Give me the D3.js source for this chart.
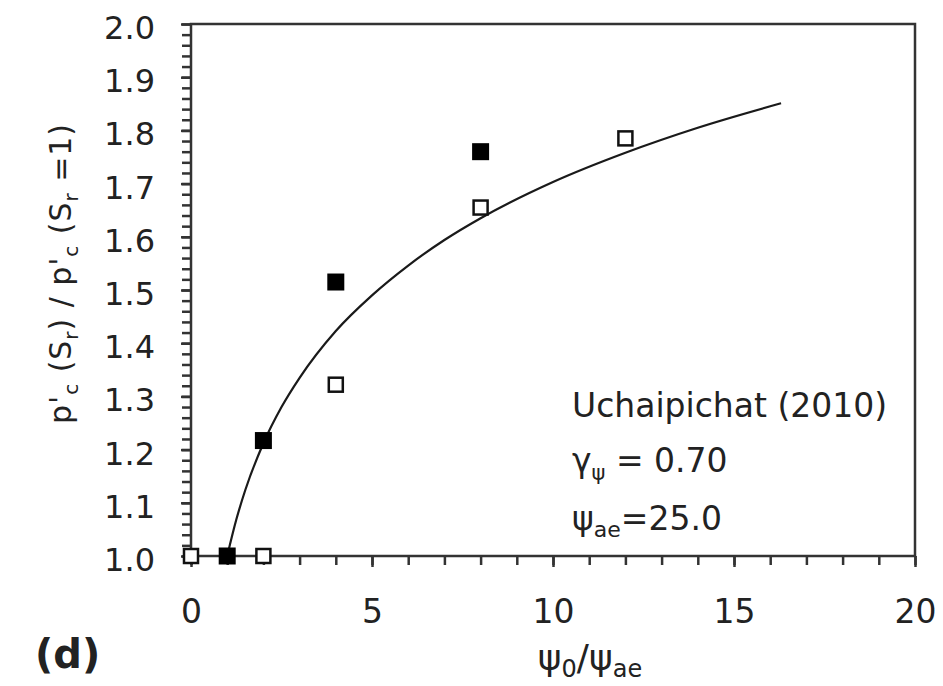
<!DOCTYPE html>
<html><head><meta charset="utf-8">
<script src="https://cdn.jsdelivr.net/npm/d3@7/dist/d3.min.js"></script>
<style>body{margin:0;background:#fff}svg{display:block}text{font-family:"DejaVu Sans",sans-serif;fill:#222}</style>
</head><body><svg id="c" width="943" height="686"></svg>
<script>
// data
const filledX = [1, 2, 4, 8];
const filledY = [1.0, 1.217, 1.515, 1.76];
const openX = [0, 2, 4, 8, 12];
const openY = [1.0, 1.0, 1.322, 1.655, 1.785];
const fitX = [1, 1.25, 1.5, 2, 2.5, 3, 4, 5, 6, 7, 8, 10, 12, 14, 16.3];
const fitY = [1.0, 1.068, 1.124, 1.212, 1.28, 1.335, 1.423, 1.49, 1.546, 1.594, 1.635, 1.703, 1.758, 1.805, 1.851];
const xTicks = [0, 5, 10, 15, 20];
const yTicks = [1.0, 1.1, 1.2, 1.3, 1.4, 1.5, 1.6, 1.7, 1.8, 1.9, 2.0];

const svg = d3.select("#c");
const L = 191, R = 915, T = 24, B = 556;
const x = d3.scaleLinear().domain([0, 20]).range([L, R]);
const y = d3.scaleLinear().domain([1.0, 2.0]).range([B, T]);
const axisColor = "#333";
const FONT = "DejaVu Sans, sans-serif";

// frame
svg.append("rect").attr("x", L).attr("y", T).attr("width", R - L).attr("height", B - T)
  .attr("fill", "none").attr("stroke", axisColor).attr("stroke-width", 2.5);

// y minor ticks
const yMinor = d3.range(0, 51).map(i => 1 + i * 0.02);
svg.append("g").attr("transform", `translate(${L},0)`)
  .call(d3.axisLeft(y).tickValues(yMinor).tickSize(9).tickFormat(""))
  .call(g => { g.select(".domain").remove(); g.selectAll("line").attr("stroke", axisColor).attr("stroke-width", 2.5); });
// y major
svg.append("g").attr("transform", `translate(${L},0)`)
  .call(d3.axisLeft(y).tickValues(yTicks).tickSize(10).tickPadding(26).tickFormat(d3.format(".1f")))
  .call(g => { g.select(".domain").remove(); g.selectAll("line").attr("stroke", axisColor).attr("stroke-width", 2.5);
    g.selectAll("text").attr("font-size", 32).attr("dy", "0.45em").attr("fill", "#222").style("font-family", FONT); });

// x minor ticks
svg.append("g").attr("transform", `translate(0,${B})`)
  .call(d3.axisBottom(x).tickValues(d3.range(0, 21)).tickSize(9).tickFormat(""))
  .call(g => { g.select(".domain").remove(); g.selectAll("line").attr("stroke", axisColor).attr("stroke-width", 2.5); });
svg.append("g").attr("transform", `translate(0,${B})`)
  .call(d3.axisBottom(x).tickValues(xTicks).tickSize(11).tickPadding(33).tickFormat(d3.format("d")))
  .call(g => { g.select(".domain").remove(); g.selectAll("line").attr("stroke", axisColor).attr("stroke-width", 2.5);
    g.selectAll("text").attr("font-size", 33).attr("fill", "#222").style("font-family", FONT); });

// fit curve
const fit = fitX.map((v, i) => [v, fitY[i]]);
svg.append("path").datum(fit)
  .attr("d", d3.line().x(d => x(d[0])).y(d => y(d[1])).curve(d3.curveMonotoneX))
  .attr("fill", "none").attr("stroke", "#1a1a1a").attr("stroke-width", 2.2);

// open squares
const s = 14;
svg.append("g").selectAll("rect").data(openX.map((v, i) => [v, openY[i]])).join("rect")
  .attr("x", d => x(d[0]) - s / 2).attr("y", d => y(d[1]) - s / 2)
  .attr("width", s).attr("height", s)
  .attr("fill", "#fff").attr("stroke", "#111").attr("stroke-width", 2.5);
// filled squares
const f = 17;
svg.append("g").selectAll("rect").data(filledX.map((v, i) => [v, filledY[i]])).join("rect")
  .attr("x", d => x(d[0]) - f / 2).attr("y", d => y(d[1]) - f / 2)
  .attr("width", f).attr("height", f).attr("fill", "#000");

// annotation
const ann = svg.append("g").attr("font-size", 33);
ann.append("text").attr("x", 572).attr("y", 417).text("Uchaipichat (2010)");
const g1 = ann.append("text").attr("x", 572).attr("y", 472);
g1.append("tspan").text("γ");
g1.append("tspan").attr("font-size", 21).attr("dy", 8).text("ψ");
g1.append("tspan").attr("dy", -8).text(" = 0.70");
const g2 = ann.append("text").attr("x", 572).attr("y", 530);
g2.append("tspan").text("ψ");
g2.append("tspan").attr("font-size", 22).attr("dy", 7).text("ae");
g2.append("tspan").attr("dy", -7).text("=25.0");

// x axis label
const xl = svg.append("text").attr("x", 590).attr("y", 670).attr("text-anchor", "middle").attr("font-size", 36);
xl.append("tspan").text("ψ");
xl.append("tspan").attr("font-size", 24).attr("dy", 7).text("0");
xl.append("tspan").attr("dy", -7).text("/ψ");
xl.append("tspan").attr("font-size", 24).attr("dy", 7).text("ae");

// y axis label
const yl = svg.append("text").attr("transform", "translate(71,274) rotate(-90)")
  .attr("text-anchor", "middle").attr("font-size", 30)
  .attr("textLength", 300).attr("lengthAdjust", "spacing");
yl.append("tspan").text("p'");
yl.append("tspan").attr("font-size", 20).attr("dy", 7).text("c");
yl.append("tspan").attr("dy", -7).text(" (S");
yl.append("tspan").attr("font-size", 20).attr("dy", 7).text("r");
yl.append("tspan").attr("dy", -7).text(") / p'");
yl.append("tspan").attr("font-size", 20).attr("dy", 7).text("c");
yl.append("tspan").attr("dy", -7).text(" (S");
yl.append("tspan").attr("font-size", 20).attr("dy", 7).text("r");
yl.append("tspan").attr("dy", -7).text(" =1)");

// panel label
svg.append("text").attr("x", 35).attr("y", 668).attr("font-size", 40).attr("font-weight", "bold").text("(d)");
</script></body></html>
